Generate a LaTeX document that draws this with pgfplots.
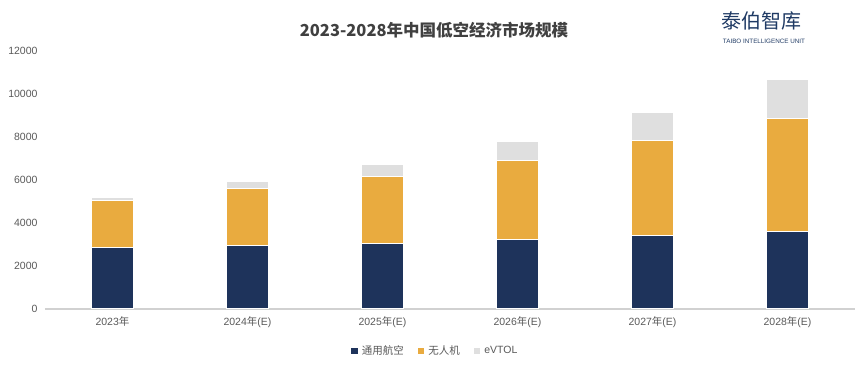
\documentclass[border=0pt]{standalone}
\usepackage{pgfplots}
\pgfplotsset{compat=1.18}
\usepackage{fontspec}
\setmainfont{Liberation Sans}
\newfontfamily\cjk{Noto Sans CJK SC}
\definecolor{navy}{HTML}{1E335B}
\definecolor{gold}{HTML}{E9AB3F}
\definecolor{lgrey}{HTML}{DFDFDF}
\definecolor{txt}{HTML}{595959}
\definecolor{logo}{HTML}{1F3A64}
\begin{document}
\begin{tikzpicture}
\useasboundingbox (0pt,0pt) rectangle (868pt,372pt);
\node[font=\cjk\bfseries\fontsize{16.5}{18}\selectfont, text=black!75] at (434pt,342pt) {2023-2028年中国低空经济市场规模};
\node[font=\cjk\fontsize{20}{22}\selectfont, text=logo] at (761pt,351pt) {泰伯智库};
\node[font=\fontsize{6.3}{7}\selectfont, text=logo] at (764pt,331pt) {TAIBO INTELLIGENCE UNIT};
\begin{axis}[
  at={(45pt,63pt)}, anchor=south west,
  scale only axis, width=810pt, height=258pt,
  ybar stacked, bar width=42pt,
  xmin=-0.5, xmax=5.5, ymin=0, ymax=12000,
  xtick={0,...,5},
  xticklabels={2023{\cjk 年},2024{\cjk 年}(E),2025{\cjk 年}(E),2026{\cjk 年}(E),2027{\cjk 年}(E),2028{\cjk 年}(E)},
  ytick={0,2000,...,12000},
  scaled y ticks=false,
  /pgf/number format/assume math mode=true,
  /pgf/number format/1000 sep={},
  axis y line=none,
  axis x line*=bottom,
  x axis line style={draw=black!18, line width=1.5pt, -},
  major tick length=0pt,
  tick label style={font=\fontsize{10.5}{12}\selectfont, text=txt},
  xticklabel style={yshift=-4pt},
  every axis plot/.append style={draw=white, line width=1pt},
  legend style={at={(0.482,-0.163)}, anchor=center, legend columns=-1, draw=none,
    font=\cjk\fontsize{10.5}{12}\selectfont, text=txt,
    /tikz/every odd column/.append style={column sep=2pt},
    /tikz/every even column/.append style={column sep=12pt}},
  legend image code/.code={\fill[#1,draw=none] (0pt,-3pt) rectangle (6.5pt,3.5pt);},
  clip=false,
]
\addplot[fill=navy] coordinates {(0,2840) (1,2950) (2,3060) (3,3230) (4,3420) (5,3620)};
\addplot[fill=gold] coordinates {(0,2200) (1,2650) (2,3100) (3,3700) (4,4400) (5,5220)};
\addplot[fill=lgrey] coordinates {(0,160) (1,330) (2,560) (3,880) (4,1300) (5,1820)};
\legend{通用航空,无人机,{\fontspec{Liberation Sans}eVTOL}}
\end{axis}
\begin{axis}[
  at={(45pt,63pt)}, anchor=south west,
  scale only axis, width=810pt, height=258pt,
  xmin=-0.5, xmax=5.5, ymin=0, ymax=12000,
  axis x line=none, axis y line*=left, y axis line style={draw=none},
  ytick={0,2000,...,12000},
  scaled y ticks=false,
  /pgf/number format/assume math mode=true,
  /pgf/number format/1000 sep={},
  major tick length=0pt,
  yticklabel style={font=\fontsize{10.5}{12}\selectfont, text=txt, xshift=-4pt},
]
\end{axis}
\end{tikzpicture}
\end{document}
